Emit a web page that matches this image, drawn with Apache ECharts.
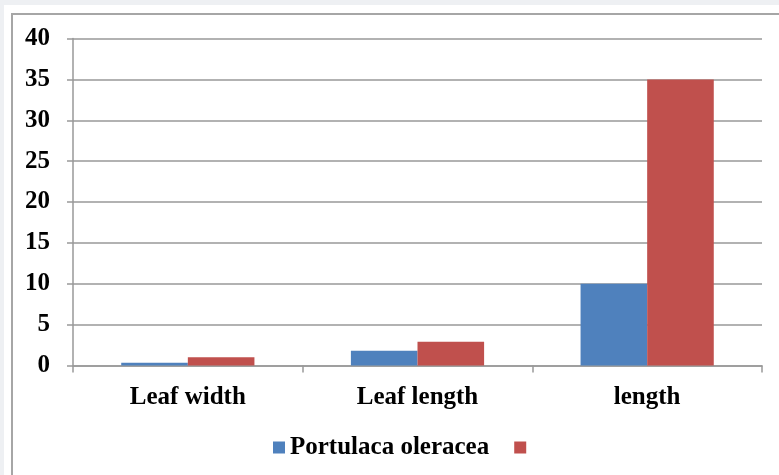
<!DOCTYPE html>
<html>
<head>
<meta charset="utf-8">
<script src="https://cdn.jsdelivr.net/npm/echarts@6/dist/echarts.min.js"></script>
<style>
html, body { margin:0; padding:0; width:779px; height:475px; overflow:hidden; background:#eef0f3; }
#paper { position:absolute; left:4px; top:5px; width:775px; height:470px; background:#ffffff; }
#frame { position:absolute; left:11px; top:13px; width:780px; height:480px; border-left:2px solid #a6a6a6; border-top:2px solid #a6a6a6; }
#chart { position:absolute; left:0; top:0; width:779px; height:475px; }
</style>
</head>
<body>
<div id="paper"></div>
<div id="frame"></div>
<div id="chart"></div>
<script>
const categories = ['Leaf width', 'Leaf length', 'length'];
const seriesNames = ['Portulaca oleracea', ' '];
const blueValues = [0.35, 1.8, 10];
const redValues = [1, 2.9, 35];
const yTicks = [0, 5, 10, 15, 20, 25, 30, 35, 40];

const font = '"Liberation Serif", "Times New Roman", serif';
const chart = echarts.init(document.getElementById('chart'), null, { renderer: 'canvas' });
chart.setOption({
  backgroundColor: 'transparent',
  animation: false,
  grid: { left: 73, right: 17, top: 38.5, bottom: 109.5, containLabel: false },
  legend: {
    data: seriesNames,
    left: 268, top: 430,
    icon: 'rect', itemWidth: 12, itemHeight: 12, itemGap: 25,
    textStyle: { fontFamily: font, fontWeight: 'bold', fontSize: 25, color: '#000' }
  },
  xAxis: {
    type: 'category',
    data: categories,
    axisLine: { lineStyle: { color: '#999999', width: 1.5 } },
    axisTick: { show: true, length: 7, lineStyle: { color: '#999999', width: 1.5 } },
    axisLabel: { margin: 20, fontFamily: font, fontWeight: 'bold', fontSize: 25, color: '#000' }
  },
  yAxis: {
    type: 'value',
    min: yTicks[0], max: yTicks[yTicks.length - 1], interval: 5,
    axisLine: { show: true, lineStyle: { color: '#999999', width: 1.5 } },
    axisTick: { show: true, length: 6, lineStyle: { color: '#999999', width: 1.5 } },
    splitLine: { show: true, lineStyle: { color: '#999999', width: 1.5 } },
    axisLabel: { margin: 23, fontFamily: font, fontWeight: 'bold', fontSize: 25, color: '#000' }
  },
  series: [
    { name: seriesNames[0], type: 'bar', data: blueValues, barWidth: '29%', barGap: '0%',
      itemStyle: { color: '#4f81bd' } },
    { name: seriesNames[1], type: 'bar', data: redValues, barWidth: '29%', barGap: '0%',
      itemStyle: { color: '#c0504d' } }
  ]
});
</script>
</body>
</html>
